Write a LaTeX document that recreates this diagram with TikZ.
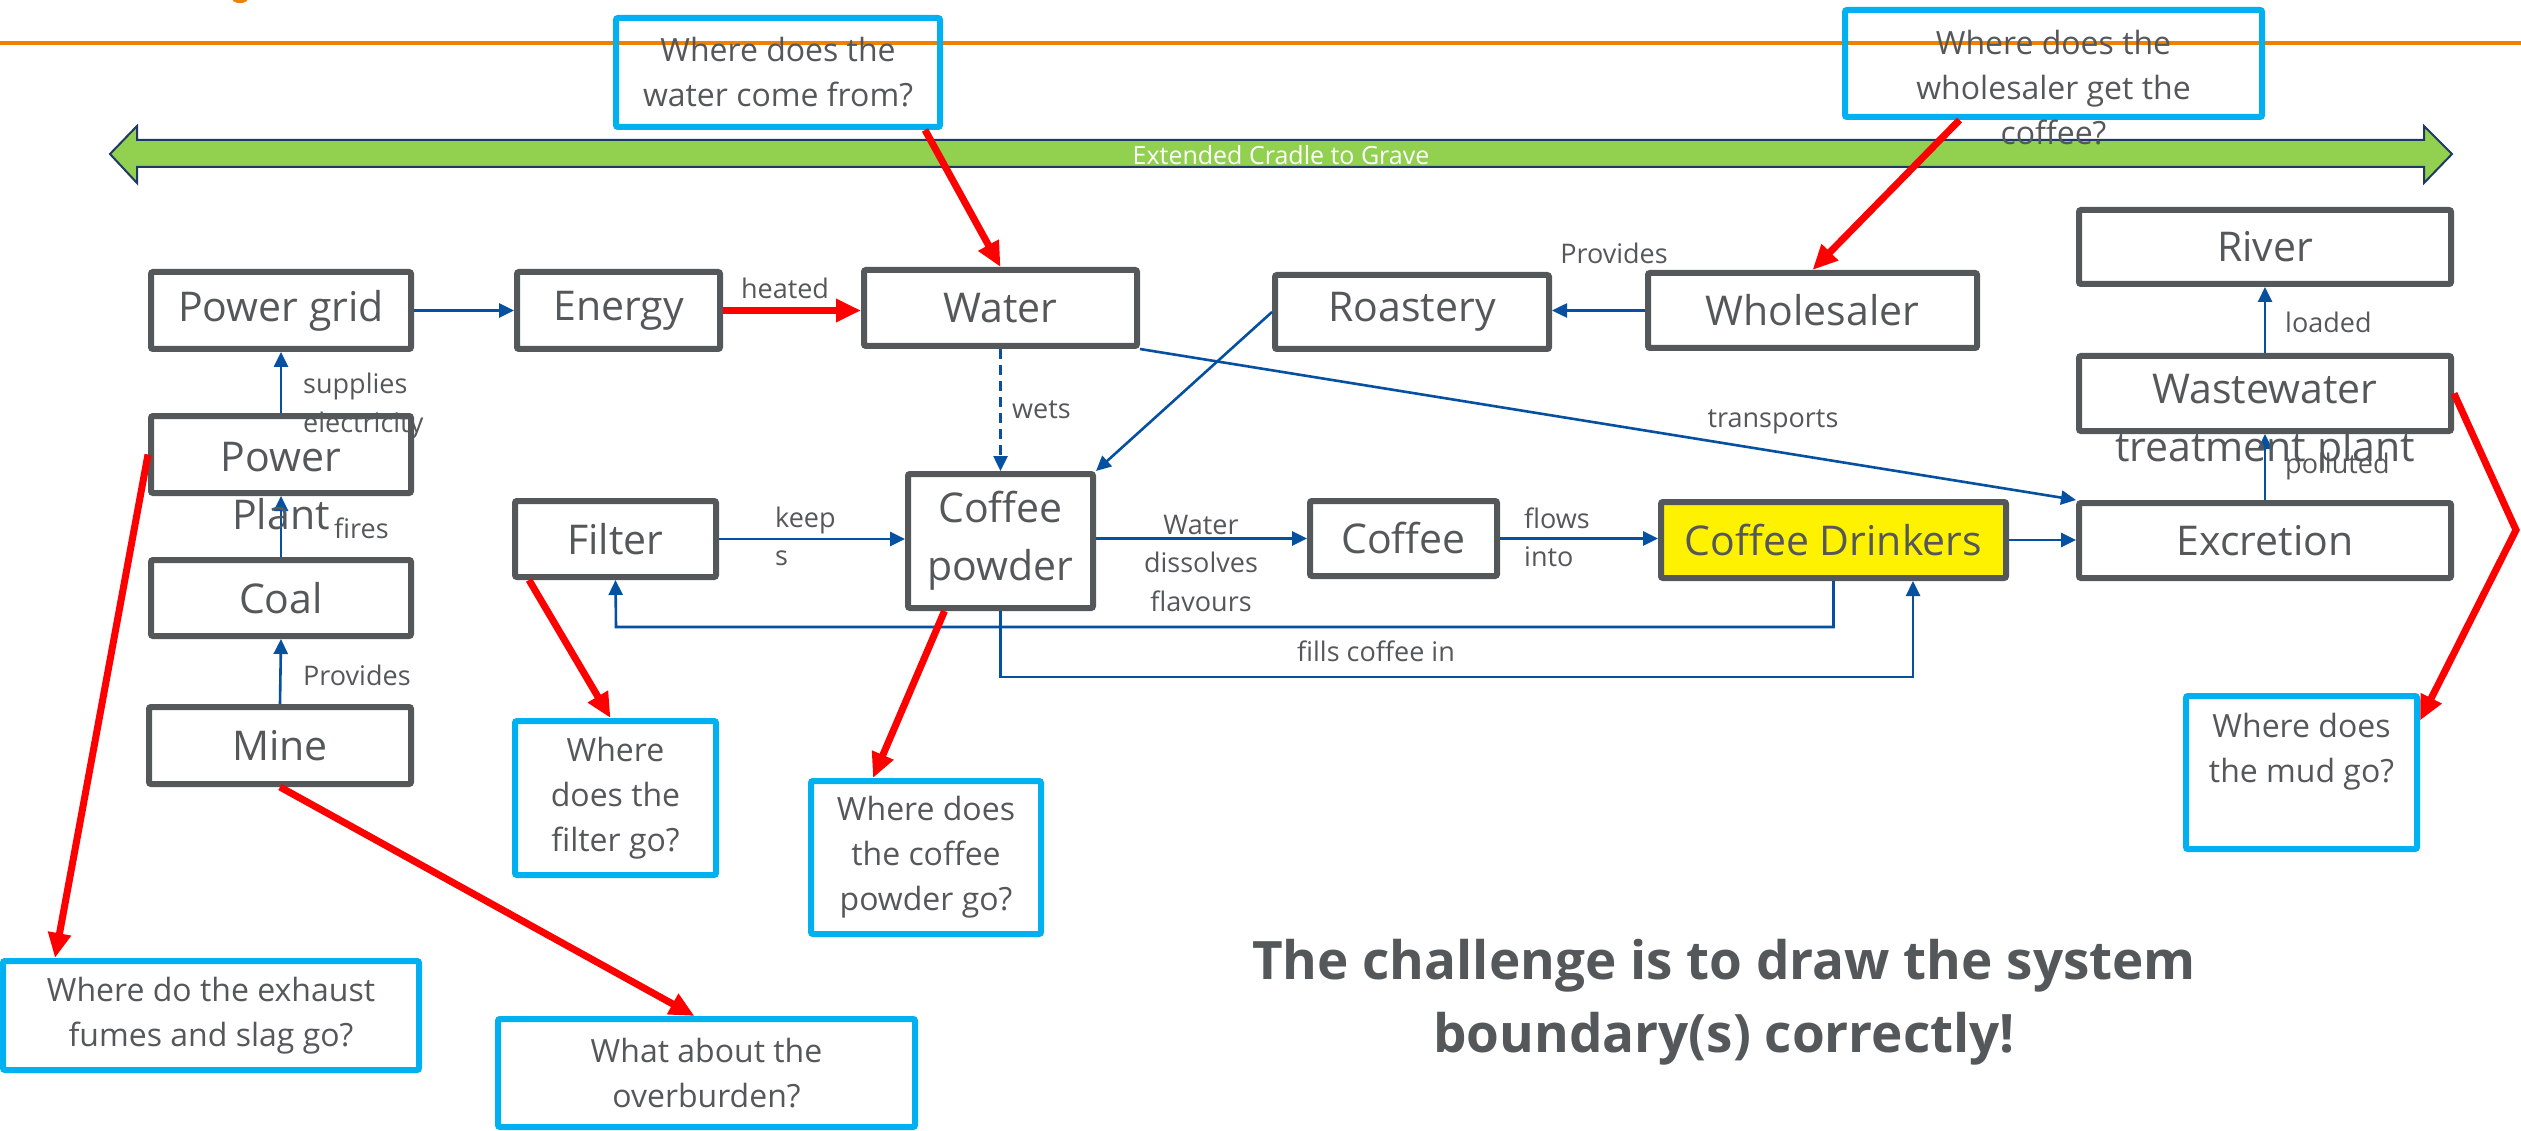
\documentclass[tikz,border=0pt]{standalone}
\usepackage{fontspec}
\setmainfont{Open Sans}
\usetikzlibrary{arrows.meta}

\definecolor{boxgrey}{RGB}{84,88,90}
\definecolor{txtgrey}{RGB}{85,88,90}
\definecolor{flowblue}{RGB}{5,80,160}
\definecolor{qcyan}{RGB}{0,176,240}
\definecolor{cradlegreen}{RGB}{146,208,80}
\definecolor{cradleedge}{RGB}{31,56,100}
\definecolor{rulerorange}{RGB}{240,128,0}

\tikzset{
  stagebox/.style={draw=boxgrey, line width=6pt, fill=white, rounded corners=2pt,
    inner sep=0pt, text=txtgrey, font=\fontsize{41}{58}\selectfont, align=center},
  qbox/.style={draw=qcyan, line width=6pt, rounded corners=2pt, inner sep=0pt,
    text=txtgrey, font=\fontsize{32}{45}\selectfont, align=center},
  boxtext/.style={text=txtgrey, font=\fontsize{41}{58}\selectfont, align=center, inner sep=0pt},
  qtext/.style={text=txtgrey, font=\fontsize{32}{45}\selectfont, align=center, inner sep=0pt},
  flowlabel/.style={text=txtgrey, font=\fontsize{27}{38.5}\selectfont, inner sep=0pt},
  flow/.style={draw=flowblue, line width=2.6pt, -{Triangle[length=15pt,width=14pt]}},
  redflow/.style={draw=red, line width=7pt, -{Triangle[length=25pt,width=22pt]}},
}

\begin{document}
\begin{tikzpicture}[x=1pt, y=-1pt]
\fill[white] (0,0) rectangle (2521,1131);
\useasboundingbox (0,0) rectangle (2521,1131);

% header rule
\fill[rulerorange] (240,0) ellipse (7 and 3);
\draw[rulerorange, line width=4pt] (0,43) -- (2521,43);

% life-cycle span arrow
\filldraw[fill=cradlegreen, draw=cradleedge, line width=2pt]
  (110,154) -- (137,126) -- (137,140) -- (2424,140) -- (2424,126) -- (2452,154)
  -- (2424,183) -- (2424,167) -- (137,167) -- (137,183) -- cycle;
\node[font=\fontsize{25}{30}\selectfont, text=white, inner sep=0pt] (cradle) at (1281,155) {Extended Cradle to Grave};

% process stages
\node[stagebox, minimum width=260pt, minimum height=77pt] (pg)   at (281,310.5)  {Power grid};
\node[stagebox, minimum width=203pt, minimum height=77pt] (en)   at (618.5,310.5) {Energy};
\node[stagebox, minimum width=273pt, minimum height=76pt] (wat)  at (1000.5,308) {Water};
\node[stagebox, minimum width=274pt, minimum height=74pt] (ro)   at (1412,312)   {Roastery};
\node[stagebox, minimum width=329pt, minimum height=75pt] (ws)   at (1812.5,310.5) {Wholesaler};
\node[stagebox, minimum width=372pt, minimum height=74pt] (riv)  at (2265,247)   {River};
\node[stagebox, minimum width=372pt, minimum height=75pt] (ww)   at (2265,393.5) {};
\node[stagebox, minimum width=372pt, minimum height=75pt] (ex)   at (2265,540.5) {Excretion};
\node[stagebox, minimum width=260pt, minimum height=77pt] (pp)   at (281,454.5)  {};
\node[stagebox, minimum width=260pt, minimum height=76pt] (coal) at (281,598)    {Coal};
\node[stagebox, minimum width=262pt, minimum height=77pt] (mine) at (280,745.5)  {Mine};
\node[stagebox, minimum width=201pt, minimum height=76pt] (fil)  at (615.5,539)  {Filter};
\node[stagebox, minimum width=185pt, minimum height=134pt] (cp)  at (1000.5,541) {Coffee\\powder};
\node[stagebox, minimum width=187pt, minimum height=75pt] (cof)  at (1403.5,538.5) {Coffee};
\node[stagebox, fill=yellow, minimum width=345pt, minimum height=76pt] (cd) at (1833.5,540) {Coffee Drinkers};

% questions
\node[qbox, minimum width=324pt, minimum height=109pt] (wq)   at (778,72.5)    {Where does the\\water come from?};
\node[qbox, minimum width=417pt, minimum height=107pt] (wsq)  at (2053.5,63.5) {};
\node[qbox, minimum width=416pt, minimum height=109pt] (exq)  at (211,1015.5)  {Where do the exhaust\\fumes and slag go?};
\node[qbox, minimum width=417pt, minimum height=108pt] (obq)  at (706.5,1073)  {What about the\\overburden?};
\node[qbox, minimum width=201pt, minimum height=154pt] (fq)   at (615.5,798)   {Where\\does the\\filter go?};
\node[qbox, minimum width=230pt, minimum height=153pt] (cpq)  at (926,857.5)   {Where does\\the coffee\\powder go?};
\node[qbox, minimum width=231pt, minimum height=153pt] (mudq) at (2301.5,772.5) {};

% flows
\coordinate (loopA) at (616,627);
\coordinate (loopB) at (1913,677);
\draw[flow] (pg.east) -- (pg.east -| en.west);
\draw[flow] (pp.north) -- (pg.south);
\draw[flow] (coal.north) -- (pp.south);
\draw[flow] (mine.north) -- (coal.south);
\draw[flow] (ws.west) -- (ws.west -| ro.east);
\draw[flow] (ro.west) -- (cp.north east);
\draw[flow] (wat.south east) -- (ex.north west);
\draw[flow, dashed, dash pattern=on 10pt off 6pt] (wat.south) -- (cp.north);
\draw[flow] (fil.east) -- (fil.east -| cp.west);
\draw[flow] (cp.east |- cof.west) -- (cof.west);
\draw[flow] (cof.east) -- (cof.east -| cd.west);
\draw[flow] (cd.east) -- (cd.east -| ex.west);
\draw[flow] (cd.south) |- (loopA) -- (fil.south);
\draw[flow] (cp.south) |- (loopB) -- (loopB |- cd.south);
\draw[flow] (ex.north) -- (ww.south);
\draw[flow] (ww.north) -- (riv.south);

% texts that run past their boxes
\node[boxtext] (pptext) at (281,486) {Power\\Plant};
\node[boxtext] (wwtext) at (2265,423) {Wastewater\\treatment plant};
\node[qtext] (wsqtext) at (2053.5,88) {Where does the\\wholesaler get the\\coffee?};
\node[qtext] (mudtext) at (2301.5,751.5) {Where does\\the mud go?};

% flow labels
\node[flowlabel, anchor=west, align=left] (lsup) at (303,406) {supplies\\electricity};
\node[flowlabel, anchor=west] (lfire) at (334,528) {fires};
\node[flowlabel, anchor=west] (lprov) at (303,675) {Provides};
\node[flowlabel] (lheat) at (785,288) {heated};
\node[flowlabel, anchor=west] (lwets) at (1012,410) {wets};
\node[flowlabel, anchor=west, align=left] (lkeep) at (775,536.5) {keep\\s};
\node[flowlabel, align=center] (ldiss) at (1201,563) {Water\\dissolves\\flavours};
\node[flowlabel, anchor=west, align=left] (lflow) at (1524,537.5) {flows\\into};
\node[flowlabel] (lfill) at (1376,651) {fills coffee in};
\node[flowlabel] (lprov2) at (1614,253) {Provides};
\node[flowlabel] (ltrans) at (1773,422) {transports};
\node[flowlabel, anchor=west] (lload) at (2285,322) {loaded};
\node[flowlabel, anchor=west] (lpoll) at (2285,466) {polluted};

% open questions at the boundary
\coordinate (mudbend) at (2516,530);
\draw[redflow] (en.east) -- (en.east -| wat.west);
\draw[redflow] ([xshift=-18pt]wq.south east) -- (wat.north);
\draw[redflow] ([xshift=-94pt]wsq.south) -- (ws.north);
\draw[redflow] (pp.west) -- ([xshift=55pt]exq.north west);
\draw[redflow] (mine.south) -- ([xshift=-12pt]obq.north);
\draw[redflow] ([xshift=17pt]fil.south west) -- ([xshift=-5pt]fq.north);
\draw[redflow] ([xshift=-56pt]cp.south) -- ([xshift=-53pt]cpq.north);
\draw[redflow] (ww.east) -- (mudbend) -- ([yshift=52pt]mudq.east);

% closing remark
\node[text=txtgrey, font=\bfseries\fontsize{53}{73}\selectfont, align=center, inner sep=0pt] (challenge)
  at (1724,1002.5) {The challenge is to draw the system\\boundary(s) correctly!};
\end{tikzpicture}
\end{document}
